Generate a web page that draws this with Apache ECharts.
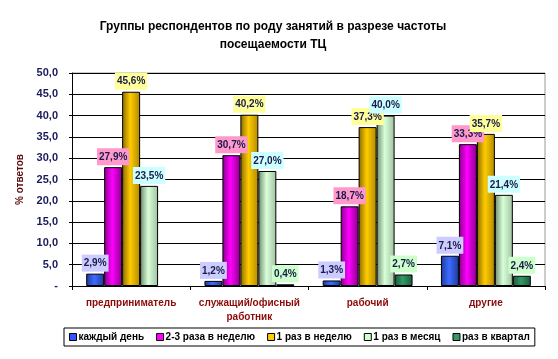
<!DOCTYPE html>
<html><head><meta charset="utf-8">
<script src="https://cdn.jsdelivr.net/npm/echarts@6/dist/echarts.min.js"></script>
<style>html,body{margin:0;padding:0;background:#fff}#c{width:558px;height:359px}</style>
</head><body><div id="c"></div>
<script>
const categories = ['предприниматель', 'служащий/офисный\nработник', 'рабочий', 'другие'];
const seriesNames = ['каждый день', '2-3 раза в неделю', '1 раз в неделю', '1 раз в месяц', 'раз в квартал'];
const everyDay = [2.9, 1.2, 1.3, 7.1];
const twoThreeWeek = [27.9, 30.7, 18.7, 33.3];
const oncePerWeek = [45.6, 40.2, 37.3, 35.7];
const oncePerMonth = [23.5, 27.0, 40.0, 21.4];
const perQuarter = [null, 0.4, 2.7, 2.4];
const yTicks = {min: 0, max: 50, interval: 5};

const values = [everyDay, twoThreeWeek, oncePerWeek, oncePerMonth, perQuarter];
const baseColors = [
  ['#1c3a9e', '#3d6bff', '#1c3a9e'],
  ['#8a008a', '#ff00ff', '#8a008a'],
  ['#8a6a00', '#ffcc00', '#b08800'],
  ['#6e8a6e', '#d8ffd8', '#a0c0a0'],
  ['#1a5a3a', '#339966', '#1a5a3a']
];
const legendColors = ['#3355ff', '#ff00ff', '#ffcc00', '#ccffcc', '#339966'];
const labelBg = ['#ccccff', '#ff99cc', '#ffff99', '#ccffff', '#ccffcc'];

const chart = echarts.init(document.getElementById('c'), null, {renderer: 'canvas'});
const series = values.map((arr, i) => ({
  name: seriesNames[i],
  type: 'bar',
  data: arr,
  barGap: '0%',
  barCategoryGap: '24%',
  itemStyle: {
    color: new echarts.graphic.LinearGradient(0, 0, 1, 0, [
      {offset: 0, color: baseColors[i][0]},
      {offset: 0.45, color: baseColors[i][1]},
      {offset: 1, color: baseColors[i][2]}
    ]),
    borderColor: '#000',
    borderWidth: 1
  },
  label: {
    show: true,
    position: 'top',
    distance: 2,
    formatter: p => p.value == null ? '' : p.value.toFixed(1).replace('.', ',') + '%',
    fontFamily: 'Liberation Sans, Arial',
    fontSize: 10,
    fontWeight: 'bold',
    color: '#1a1a4a',
    backgroundColor: labelBg[i],
    padding: [4, 2, 3, 2]
  }
}));

chart.setOption({
  animation: false,
  title: {
    text: 'Группы респондентов по роду занятий в разрезе частоты\nпосещаемости ТЦ',
    left: 268, top: 13, textAlign: 'center',
    textStyle: {fontFamily: 'Liberation Sans, Arial', fontSize: 12, fontWeight: 'bold', color: '#000', lineHeight: 18}
  },
  legend: {
    data: seriesNames.map((n, i) => ({name: n, itemStyle: {color: legendColors[i], borderColor: '#000', borderWidth: 1}})),
    bottom: 13, left: 64,
    icon: 'rect', itemWidth: 7, itemHeight: 7, itemGap: 12,
    borderColor: '#000', borderWidth: 1, padding: [4, 5, 4, 5],
    textStyle: {fontFamily: 'Liberation Sans, Arial', fontSize: 10, fontWeight: 'bold', color: '#000', padding: [0, 0, 0, -3]}
  },
  grid: {left: 72, right: 13, top: 73, bottom: 73},
  xAxis: {
    type: 'category',
    data: categories,
    axisLine: {lineStyle: {color: '#000'}},
    axisTick: {show: true, lineStyle: {color: '#000'}, length: 4, inside: false},
    axisLabel: {interval: 0, fontFamily: 'Liberation Sans, Arial', fontSize: 10, fontWeight: 'bold', color: '#8b0a0a', margin: 10, lineHeight: 14}
  },
  yAxis: {
    type: 'value',
    min: yTicks.min, max: yTicks.max, interval: yTicks.interval,
    name: '% ответов', nameLocation: 'middle', nameGap: 45, nameRotate: 90,
    nameTextStyle: {fontFamily: 'Liberation Sans, Arial', fontSize: 10, fontWeight: 'bold', color: '#5a0a0a'},
    axisLine: {show: true, lineStyle: {color: '#000'}},
    axisTick: {show: true, lineStyle: {color: '#000'}, length: 3},
    splitLine: {lineStyle: {color: '#000', width: 1}},
    axisLabel: {
      fontFamily: 'Liberation Sans, Arial', fontSize: 11, fontWeight: 'bold', color: '#1a1a5a',
      formatter: v => v === 0 ? '-' : v.toFixed(1).replace('.', ','),
      margin: 14
    }
  },
  series: series,
  graphic: [{
    type: 'polyline', silent: true, z: 0,
    shape: {points: [[72, 73], [545, 73], [545, 286]]},
    style: {stroke: '#999', lineWidth: 1, fill: null}
  }]
});
</script></body></html>
